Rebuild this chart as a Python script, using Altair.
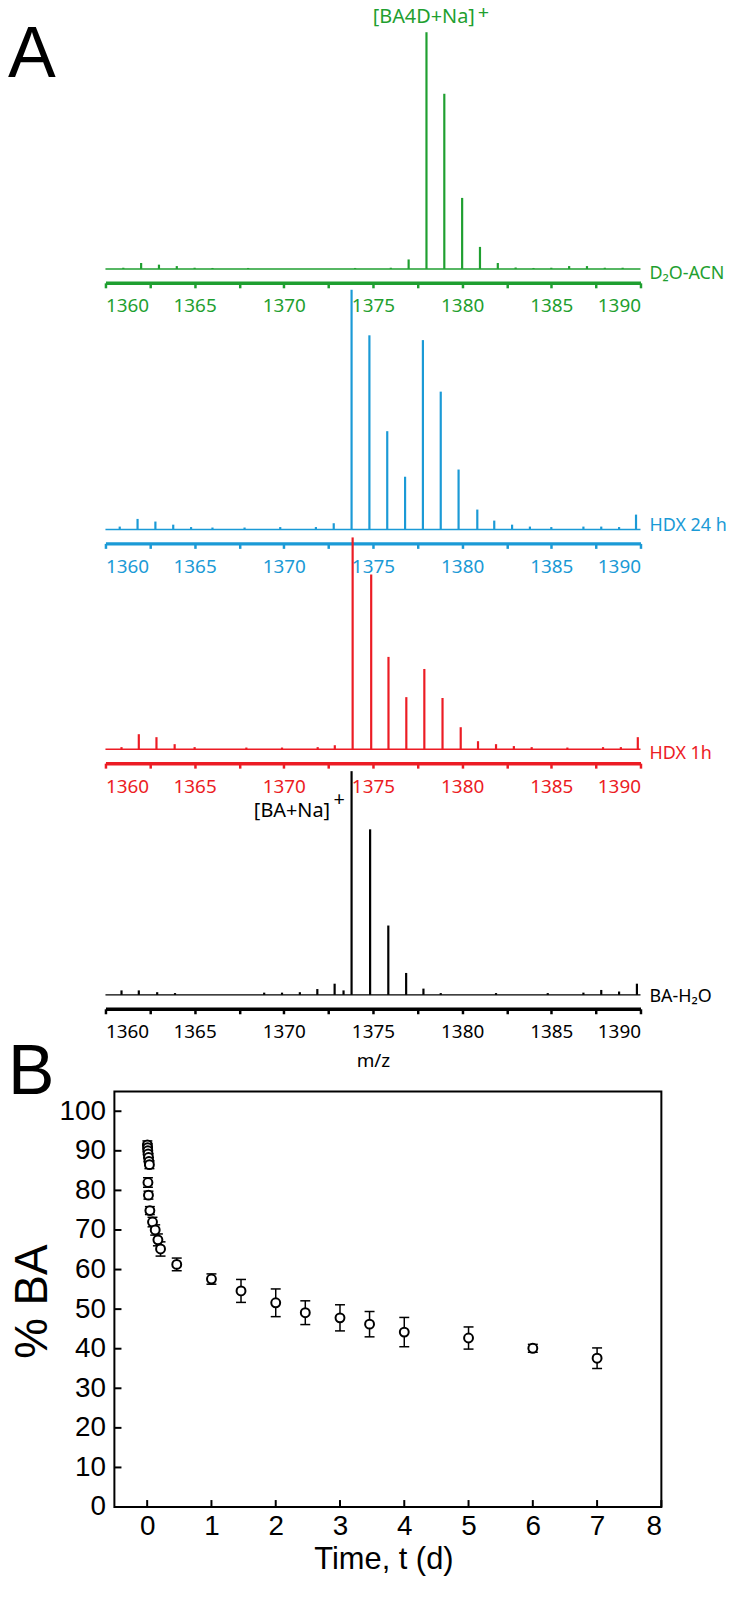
import altair as alt
import pandas as pd

# ---------------- Panel A : mass spectra (m/z, relative intensity) ----------------
green_mz = [1361.0, 1362.0, 1363.0, 1364.0, 1365.0, 1366.0, 1368.0, 1374.0, 1376.0, 1377.0, 1378.0,
            1379.0, 1380.0, 1381.0, 1382.0, 1383.0, 1384.0, 1385.0, 1386.0, 1387.0, 1388.0, 1389.0]
green_int = [0.005, 0.025, 0.018, 0.012, 0.005, 0.004, 0.004, 0.004, 0.005, 0.040, 1.0,
             0.74, 0.30, 0.093, 0.025, 0.006, 0.004, 0.005, 0.012, 0.012, 0.005, 0.005]

blue_mz = [1360.8, 1361.8, 1362.8, 1363.8, 1364.8, 1366.0, 1367.8, 1369.8, 1371.8, 1372.8, 1373.8,
           1374.8, 1375.8, 1376.8, 1377.8, 1378.8, 1379.8, 1380.85, 1381.8, 1382.8, 1383.8, 1385.0,
           1386.8, 1387.8, 1388.8, 1389.75]
blue_int = [0.012, 0.044, 0.033, 0.020, 0.010, 0.008, 0.008, 0.010, 0.010, 0.026, 1.0,
            0.81, 0.41, 0.22, 0.79, 0.575, 0.25, 0.083, 0.037, 0.020, 0.012, 0.010,
            0.012, 0.012, 0.010, 0.062]

red_mz = [1360.9, 1361.87, 1362.86, 1363.88, 1365.0, 1367.9, 1369.9, 1371.9, 1372.86, 1373.86,
          1374.9, 1375.87, 1376.87, 1377.88, 1378.9, 1379.92, 1380.89, 1381.9, 1382.9, 1383.9,
          1385.9, 1387.9, 1388.9, 1389.85]
red_int = [0.010, 0.071, 0.057, 0.024, 0.010, 0.008, 0.008, 0.010, 0.019, 1.0,
           0.825, 0.436, 0.246, 0.379, 0.242, 0.104, 0.038, 0.024, 0.015, 0.010,
           0.008, 0.010, 0.010, 0.057]

black_mz = [1360.9, 1361.87, 1362.9, 1363.9, 1368.9, 1369.9, 1370.9, 1371.88, 1372.85, 1373.35,
            1373.8, 1374.84, 1375.86, 1376.86, 1377.83, 1378.8, 1381.9, 1384.8, 1386.8, 1387.8,
            1388.8, 1389.8]
black_int = [0.020, 0.020, 0.012, 0.008, 0.010, 0.010, 0.012, 0.026, 0.050, 0.020,
             1.0, 0.74, 0.31, 0.098, 0.028, 0.008, 0.008, 0.008, 0.010, 0.022,
             0.015, 0.050]

series_names = ["D\u2082O-ACN", "HDX 24 h", "HDX 1h", "BA-H\u2082O"]
series_colors = ["#1f9f30", "#1b9ad6", "#ec1c24", "#000000"]

mz_range = [1360, 1390]
mz_ticks = [1360, 1362.5, 1365, 1367.5, 1370, 1372.5, 1375, 1377.5, 1380, 1382.5, 1385, 1387.5, 1390]

# ---------------- Panel B : % BA vs time ----------------
time_d = [0.003, 0.007, 0.010, 0.014, 0.021, 0.028, 0.035, 0.012, 0.020, 0.042, 0.083, 0.125,
          0.167, 0.208, 0.46, 1.0, 1.46, 2.0, 2.46, 3.0, 3.46, 4.0, 5.0, 6.0, 7.0]
pct_ba = [91.5, 90.8, 90.0, 89.2, 88.3, 87.3, 86.5, 82.0, 78.8, 74.9, 72.0, 70.0,
          67.5, 65.2, 61.3, 57.6, 54.6, 51.6, 49.1, 47.8, 46.2, 44.2, 42.7, 40.1, 37.6]
pct_err = [1.0, 1.0, 1.0, 1.0, 1.0, 1.0, 1.0, 1.2, 1.0, 1.0, 1.2, 1.3,
           1.5, 1.8, 1.6, 1.3, 2.9, 3.5, 3.0, 3.3, 3.2, 3.7, 2.8, 1.0, 2.6]
time_ticks = [0, 1, 2, 3, 4, 5, 6, 7, 8]
pct_ticks = [0, 10, 20, 30, 40, 50, 60, 70, 80, 90, 100]
t_frame = [-0.51, 8]
pct_frame = [0, 105]

FONT_A = "Noto Sans"
FONT_B = "Liberation Sans"
WA = 538
WB = 559


def spectrum_row(mz, inten, color, name, ytop, label_dy, extras=(), title="", title_pad=6):
    xscale = alt.Scale(domain=mz_range, nice=False, zero=False)
    yscale = alt.Scale(domain=[0, ytop], nice=False, zero=False)
    ax = alt.Axis(
        values=mz_ticks, format="d",
        labelExpr="datum.value % 5 === 0 ? datum.label : ''",
        offset=14, grid=False, title=title,
        domainColor=color, domainWidth=3.5,
        tickColor=color, tickWidth=2.5, tickSize=5,
        labelColor=color, labelFont=FONT_A, labelFontSize=19, labelPadding=9,
        titleFont=FONT_A, titleFontSize=19, titleFontWeight="normal",
        titleColor="black", titlePadding=title_pad,
    )
    X = alt.X("mz:Q", scale=xscale, axis=ax)
    Y = alt.Y("int:Q", scale=yscale, axis=None)

    sticks = alt.Chart(pd.DataFrame({"mz": mz, "int": inten})).transform_calculate(
        zero="0").mark_rule(color=color, strokeWidth=2.2).encode(x=X, y=Y, y2="zero:Q")
    base = alt.Chart(pd.DataFrame({"mz": [mz_range[0]], "mz2": [mz_range[1]], "int": [0]})).mark_rule(
        color=color, strokeWidth=1.5).encode(x=X, x2="mz2:Q", y=Y)
    lab = alt.Chart(pd.DataFrame({"mz": [mz_range[1]], "int": [0], "txt": [name]})).mark_text(
        color=color, font=FONT_A, fontSize=18, align="left", baseline="middle", dx=9, dy=label_dy
    ).encode(x=X, y=Y, text="txt:N")
    layers = [base, sticks, lab]
    for (t, x, y, c, al) in extras:
        layers.append(
            alt.Chart(pd.DataFrame({"mz": [x], "int": [y], "txt": [t]})).mark_text(
                color=c, font=FONT_A, fontSize=20, align=al, baseline="middle"
            ).encode(x=X, y=Y, text="txt:N")
        )
    return layers


rows = []
r1 = spectrum_row(green_mz, green_int, series_colors[0], series_names[0], 1.0, 5,
                  extras=[("[BA4D+Na]", 1377.85, 1.063, series_colors[0], "center"),
                          ("+", 1381.2, 1.08, series_colors[0], "center")])
r1.append(alt.Chart(pd.DataFrame({"txt": ["A"]})).mark_text(
    font="Liberation Sans", fontSize=72, align="left", baseline="alphabetic", color="black"
).encode(x=alt.value(-98), y=alt.value(45), text="txt:N"))
rows.append(alt.layer(*r1).properties(width=WA, height=238))
rows.append(alt.layer(*spectrum_row(blue_mz, blue_int, series_colors[1], series_names[1], 1.087, -3))
            .properties(width=WA, height=262))
rows.append(alt.layer(*spectrum_row(red_mz, red_int, series_colors[2], series_names[2], 1.0376, 5))
            .properties(width=WA, height=221))
rows.append(alt.layer(*spectrum_row(black_mz, black_int, series_colors[3], series_names[3], 1.098, 2,
                                    extras=[("[BA+Na]", 1372.6, 0.822, "black", "right"),
                                            ("+", 1373.1, 0.871, "black", "center")],
                                    title="m/z", title_pad=10))
            .properties(width=WA, height=247))

# ---------------- Panel B chart ----------------
xs_b = alt.Scale(domain=[-0.649, 8], nice=False, zero=False)
ys_b = alt.Scale(domain=[0, 129.4], nice=False, zero=False)
x_axis_b = alt.Axis(values=time_ticks, title="Time, t (d)", tickSize=0, domain=False, grid=False,
                    labelFont=FONT_B, labelFontSize=28, labelColor="black", labelPadding=6,
                    titleFont=FONT_B, titleFontSize=31, titleFontWeight="normal",
                    titleColor="black", titlePadding=4)
y_axis_b = alt.Axis(values=pct_ticks, title="% BA", tickSize=0, domain=False, grid=False,
                    labelFont=FONT_B, labelFontSize=28, labelColor="black", labelPadding=0,
                    titleFont="Liberation Sans", titleFontSize=46, titleFontWeight="normal",
                    titleColor="black", titlePadding=3, titleY=308)
XB = alt.X("t:Q", scale=xs_b, axis=x_axis_b)
YB = alt.Y("p:Q", scale=ys_b, axis=y_axis_b)

frame = alt.Chart(pd.DataFrame({"t": [t_frame[0]], "t2": [t_frame[1]], "p": [pct_frame[0]],
                                "p2": [pct_frame[1]]})).mark_rect(
    filled=False, stroke="black", strokeWidth=2).encode(x=XB, x2="t2:Q", y=YB, y2="p2:Q")
xticks = alt.Chart(pd.DataFrame({"t": time_ticks})).transform_calculate(
    p="0", p2="1.76").mark_rule(color="black", strokeWidth=2).encode(x=XB, y=YB, y2="p2:Q")
yticks = alt.Chart(pd.DataFrame({"p": pct_ticks})).transform_calculate(
    t=str(t_frame[0]), t2=str(t_frame[0] + 0.11)).mark_rule(color="black", strokeWidth=2).encode(
    x=XB, x2="t2:Q", y=YB)

dfb = pd.DataFrame({"t": time_d, "pct": pct_ba, "err": pct_err})
bbase = alt.Chart(dfb).transform_calculate(lo="datum.pct - datum.err", hi="datum.pct + datum.err")
err_rule = bbase.transform_calculate(p="datum.lo").mark_rule(color="black", strokeWidth=1.5).encode(
    x=XB, y=YB, y2="hi:Q")
cap_lo = bbase.transform_calculate(p="datum.lo").mark_point(
    shape="M -1 0 L 1 0", size=100, color="black", strokeWidth=1.5, filled=False, opacity=1
).encode(x=XB, y=YB)
cap_hi = bbase.transform_calculate(p="datum.hi").mark_point(
    shape="M -1 0 L 1 0", size=100, color="black", strokeWidth=1.5, filled=False, opacity=1
).encode(x=XB, y=YB)
pts = bbase.transform_calculate(p="datum.pct").mark_point(
    shape="circle", filled=True, fill="white", stroke="black", strokeWidth=2, size=80, opacity=1
).encode(x=XB, y=YB)
letter_B = alt.Chart(pd.DataFrame({"txt": ["B"]})).mark_text(
    font="Liberation Sans", fontSize=70, align="left", baseline="alphabetic", color="black"
).encode(x=alt.value(-98), y=alt.value(100), text="txt:N")

panelB = alt.layer(frame, xticks, yticks, err_rule, cap_lo, cap_hi, pts, letter_B).properties(
    width=WB, height=515)

chart = alt.vconcat(*rows, panelB, spacing=0, bounds="flush").properties(
    padding={"top": -10, "left": 0, "right": 0, "bottom": -2}
).configure(background="white").configure_view(stroke=None)

chart.save("out.html", embed_options={"renderer": "svg", "actions": False})
